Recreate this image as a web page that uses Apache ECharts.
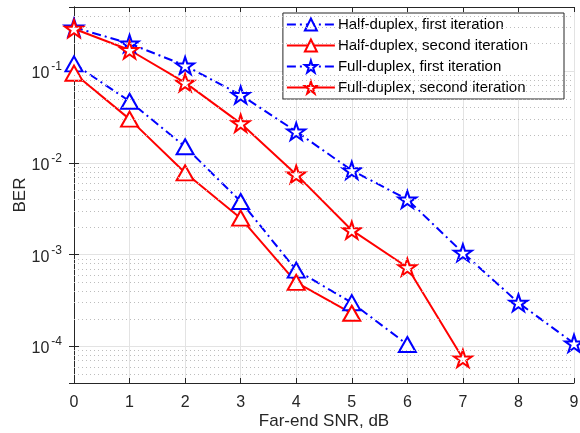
<!DOCTYPE html>
<html>
<head>
<meta charset="utf-8">
<script src="https://cdn.jsdelivr.net/npm/echarts@6/dist/echarts.min.js"></script>
<style>
  html, body { margin: 0; padding: 0; background: #fff; }
  #chart { width: 580px; height: 433px; }
</style>
</head>
<body>
<div id="chart"></div>
<script>
var snr = [0, 1, 2, 3, 4, 5, 6, 7, 8, 9];

var hdFirst = [0.12, 0.047, 0.015, 0.0038, 0.00068, 0.0003, 0.000105];
var hdSecond = [0.095, 0.03, 0.0078, 0.0025, 0.0005, 0.00023];
var fdFirst = [0.3, 0.2, 0.115, 0.055, 0.022, 0.0083, 0.004, 0.00105, 0.0003, 0.000108];
var fdSecond = [0.29, 0.17, 0.075, 0.027, 0.0075, 0.00185, 0.00073, 0.000074];

var names = [
  'Half-duplex, first iteration',
  'Half-duplex, second iteration',
  'Full-duplex, first iteration',
  'Full-duplex, second iteration'
];

// dotted minor grid at 2..9 x each decade
var minorGrid = [];
[1e-5, 1e-4, 1e-3, 1e-2, 1e-1].forEach(function (d) {
  for (var k = 2; k <= 9; k++) {
    var v = k * d;
    if (v > 4.1e-5 && v < 0.49) minorGrid.push(v);
  }
});

var chartDom = document.getElementById('chart');
var myChart = echarts.init(chartDom);

var star = 'path://M0,-1 L0.2245,-0.309 L0.951,-0.309 L0.3633,0.118 L0.588,0.809 L0,0.382 L-0.588,0.809 L-0.3633,0.118 L-0.951,-0.309 L-0.2245,-0.309 Z';
var tri = 'path://M0,-1 L0.866,0.5 L-0.866,0.5 Z';
var dashDot = [9, 4, 2, 4];

function pairs(ys) {
  return ys.map(function (y, i) { return [snr[i], y]; });
}

function makeSeries(name, ys, color, dashed, symbol, size) {
  return {
    name: name,
    type: 'line',
    data: pairs(ys),
    symbol: symbol,
    symbolSize: size,
    showAllSymbol: true,
    z: 3,
    lineStyle: { color: color, width: 2, type: dashed ? dashDot : 'solid' },
    itemStyle: { color: '#fff', borderColor: color, borderWidth: 2 }
  };
}

function yLabel(v) {
  var e = Math.round(Math.log10(v));
  if (Math.abs(Math.log10(v) - e) > 1e-6) return '';
  return '{b|10}{s|' + e + '}';
}

var axisColor = '#262626';

var option = {
  animation: false,
  grid: { left: 74, right: 6, top: 7, bottom: 50, containLabel: false, outerBoundsMode: 'none' },
  legend: {
    data: names,
    orient: 'vertical',
    right: 16,
    top: 13,
    itemGap: 6,
    padding: [4, 36, 4, 3],
    borderColor: axisColor,
    borderWidth: 1,
    backgroundColor: '#fff',
    itemWidth: 48,
    itemHeight: 15,
    textStyle: { fontSize: 15, color: '#000', fontFamily: 'Liberation Sans', padding: [0, 0, 0, -2] }
  },
  xAxis: [
    {
      type: 'value',
      min: 0,
      max: 9,
      interval: 1,
      name: 'Far-end SNR, dB',
      nameLocation: 'middle',
      nameGap: 30,
      nameMoveOverlap: false,
      nameTextStyle: { fontSize: 17, color: axisColor, fontFamily: 'Liberation Sans' },
      axisLine: { lineStyle: { color: axisColor } },
      axisTick: { inside: true, length: 5, lineStyle: { color: axisColor } },
      axisLabel: { fontSize: 16, color: axisColor, fontFamily: 'Liberation Sans', margin: 12 },
      splitLine: { show: true, lineStyle: { color: '#e3e3e3' } }
    },
    {
      type: 'value',
      position: 'top',
      min: 0,
      max: 9,
      interval: 1,
      axisLine: { lineStyle: { color: axisColor } },
      axisTick: { inside: true, length: 5, lineStyle: { color: axisColor } },
      axisLabel: { show: false },
      splitLine: { show: false }
    }
  ],
  yAxis: [
    {
      type: 'log',
      logBase: 10,
      min: 4e-5,
      max: 0.5,
      name: 'BER',
      nameLocation: 'middle',
      nameGap: 45,
      nameMoveOverlap: false,
      nameTextStyle: { fontSize: 17, color: axisColor, fontFamily: 'Liberation Sans' },
      axisLine: { show: true, lineStyle: { color: axisColor } },
      axisTick: { inside: true, length: 5, lineStyle: { color: axisColor } },
      axisLabel: {
        formatter: yLabel,
        showMinLabel: false,
        showMaxLabel: false,
        color: axisColor,
        margin: 12,
        rich: {
          b: { fontSize: 16, color: axisColor, fontFamily: 'Liberation Sans', verticalAlign: 'bottom', padding: [5, 0, 0, 0] },
          s: { fontSize: 12, color: axisColor, fontFamily: 'Liberation Sans', verticalAlign: 'top', padding: [0, 0, 0, 2] }
        }
      },
      splitLine: { show: true, lineStyle: { color: '#e3e3e3' } }
    },
    {
      type: 'log',
      logBase: 10,
      min: 4e-5,
      max: 0.5,
      position: 'right',
      axisLine: { show: true, lineStyle: { color: axisColor } },
      axisTick: { inside: true, length: 5, lineStyle: { color: axisColor } },
      axisLabel: { show: false },
      splitLine: { show: false }
    }
  ],
  series: [
    {
      name: 'minor',
      type: 'line',
      data: [],
      z: 1,
      markLine: {
        silent: true,
        symbol: 'none',
        precision: 10,
        label: { show: false },
        lineStyle: { type: [1, 3], color: '#bdbdbd', width: 1 },
        data: minorGrid.map(function (v) { return { yAxis: v }; })
      }
    },
    makeSeries(names[0], hdFirst, '#0000ff', true, tri, [17, 15]),
    makeSeries(names[1], hdSecond, '#ff0000', false, tri, [17, 15]),
    makeSeries(names[2], fdFirst, '#0000ff', true, star, [18, 17]),
    makeSeries(names[3], fdSecond, '#ff0000', false, star, [18, 17])
  ]
};

option && myChart.setOption(option);
</script>
</body>
</html>
